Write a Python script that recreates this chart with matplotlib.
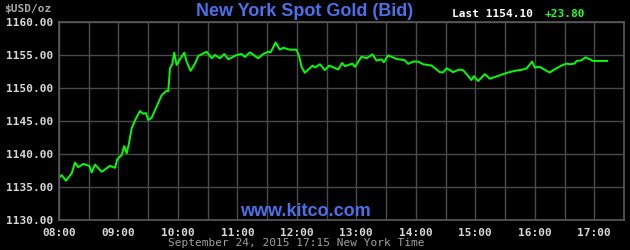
import numpy as np
import matplotlib
matplotlib.use("Agg")
from matplotlib import pyplot as plt

# time in hours (New York), bid price
hours = [8.017, 8.045, 8.118, 8.213, 8.269, 8.324, 8.408, 8.509, 8.550, 8.605,
         8.718, 8.857, 8.941, 8.980, 9.054, 9.097, 9.138, 9.176, 9.222, 9.294,
         9.361, 9.417, 9.462, 9.501, 9.558, 9.642, 9.726, 9.810, 9.837, 9.866,
         9.904, 9.938, 9.978, 10.034, 10.106, 10.146, 10.213, 10.286, 10.341, 10.482,
         10.566, 10.622, 10.706, 10.778, 10.845, 10.987, 11.071, 11.126, 11.210, 11.350,
         11.434, 11.518, 11.558, 11.642, 11.714, 11.770, 11.882, 11.995, 12.039, 12.079,
         12.134, 12.264, 12.303, 12.387, 12.471, 12.543, 12.694, 12.761, 12.807, 12.936,
         12.975, 13.087, 13.171, 13.272, 13.339, 13.424, 13.462, 13.534, 13.676, 13.815,
         13.871, 13.955, 14.039, 14.123, 14.264, 14.403, 14.459, 14.516, 14.627, 14.728,
         14.795, 14.852, 14.936, 14.975, 15.047, 15.160, 15.244, 15.356, 15.467, 15.551,
         15.664, 15.803, 15.860, 15.955, 16.000, 16.084, 16.197, 16.252, 16.336, 16.449,
         16.533, 16.589, 16.672, 16.701, 16.785, 16.852, 16.924, 16.980, 17.215]
prices = [1136.56, 1136.8, 1135.95, 1137.07, 1138.7, 1138.0, 1138.5, 1138.2, 1137.2, 1138.4,
          1137.3, 1138.2, 1137.9, 1139.2, 1139.85, 1141.2, 1140.1, 1141.6, 1143.9, 1145.4,
          1146.5, 1146.1, 1146.2, 1145.15, 1145.5, 1147.2, 1148.9, 1149.6, 1149.5, 1153.0,
          1153.6, 1155.35, 1153.5, 1154.35, 1155.35, 1154.0, 1152.6, 1153.7, 1154.85, 1155.5,
          1154.5, 1155.0, 1154.5, 1155.15, 1154.35, 1155.0, 1155.15, 1154.7, 1155.4, 1154.5,
          1155.15, 1155.5, 1155.4, 1156.9, 1155.8, 1156.1, 1155.8, 1155.8, 1154.75, 1153.2,
          1152.3, 1153.4, 1153.1, 1153.6, 1152.7, 1153.4, 1152.8, 1153.8, 1153.3, 1153.7,
          1153.2, 1154.75, 1154.5, 1155.1, 1154.15, 1154.35, 1153.9, 1154.95, 1154.4, 1154.2,
          1153.65, 1154.0, 1154.0, 1153.6, 1153.4, 1152.4, 1152.35, 1153.0, 1152.4, 1152.8,
          1152.7, 1152.1, 1151.2, 1151.8, 1151.05, 1152.1, 1151.4, 1151.75, 1152.1, 1152.35,
          1152.6, 1152.8, 1152.95, 1154.0, 1153.1, 1153.2, 1152.6, 1152.35, 1152.85, 1153.4,
          1153.7, 1153.6, 1153.7, 1154.1, 1154.2, 1154.65, 1154.35, 1154.1, 1154.1]

xticks = [8, 9, 10, 11, 12, 13, 14, 15, 16, 17]
xlabels = ["08:00", "09:00", "10:00", "11:00", "12:00", "13:00", "14:00", "15:00", "16:00", "17:00"]
yticks = [1130, 1135, 1140, 1145, 1150, 1155, 1160]

mono = "DejaVu Sans Mono"
blue = "#4a70ea"

fig = plt.figure(figsize=(6.3, 2.5), dpi=100, facecolor="black")
ax = fig.add_axes([59/630, 30/250, 565/630, 198/250])
ax.set_facecolor("black")

ax.plot(hours, prices, color="#00ff00", lw=1.4)

ax.set_xlim(8, 17.5)
ax.set_ylim(1130, 1160)
ax.set_xticks(xticks)
ax.set_xticks(np.arange(8.5, 17.5, 1.0), minor=True)
ax.set_xticklabels(xlabels)
ax.set_yticks(yticks)
ax.set_yticklabels(["%.2f" % v for v in yticks])
ax.grid(True, which="both", color="#4a4a4a", lw=1)
ax.tick_params(which="both", length=0, colors="#d8d8d8")
ax.tick_params(axis="x", pad=6)
ax.tick_params(axis="y", pad=4)
for lbl in ax.get_xticklabels() + ax.get_yticklabels():
    lbl.set_fontfamily(mono)
    lbl.set_fontweight("bold")
    lbl.set_fontsize(8)
for s in ax.spines.values():
    s.set_color("#5a5a5a")
    s.set_linewidth(1.2)

fig.text(4/630, 1 - 9/250, "$USD/oz", color="#a8a8a8", family=mono, fontweight="bold",
         fontsize=8, va="center", ha="left")
fig.text(305/630, 1 - 11/250, "New York Spot Gold (Bid)", color=blue,
         family="Liberation Sans", fontweight="bold", fontsize=13, ha="center", va="center")
fig.text(452/630, 1 - 14/250, "Last 1154.10", color="white", family=mono,
         fontweight="bold", fontsize=8, ha="left", va="center")
fig.text(545/630, 1 - 14/250, "+23.80", color="#22ff22", family=mono,
         fontweight="bold", fontsize=8, ha="left", va="center")
fig.text(305/630, 1 - 212/250, "www.kitco.com", color=blue, family="Liberation Sans",
         fontweight="bold", fontsize=13, ha="center", va="center")
fig.text(296/630, 1 - 243/250, "September 24, 2015 17:15 New York Time", color="#a0a0a0",
         family=mono, fontsize=8, ha="center", va="center")

fig.savefig("out.png", dpi=100, facecolor="black")
